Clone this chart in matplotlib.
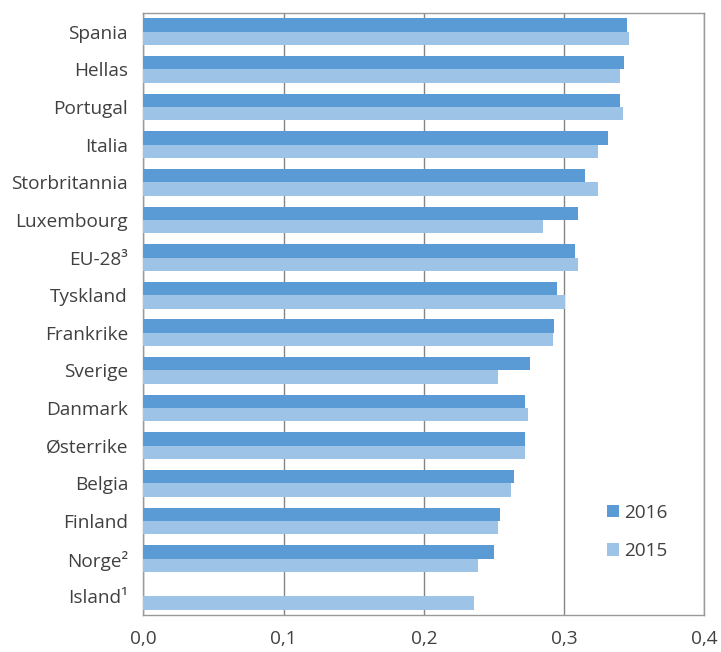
import matplotlib.pyplot as plt
import numpy as np

plt.rcParams['font.family'] = ['Open Sans', 'DejaVu Sans']

countries = ['Spania', 'Hellas', 'Portugal', 'Italia', 'Storbritannia', 'Luxembourg',
             'EU-28³', 'Tyskland', 'Frankrike', 'Sverige', 'Danmark', 'Østerrike',
             'Belgia', 'Finland', 'Norge²', 'Island¹']
v2016 = [0.345, 0.343, 0.340, 0.331, 0.315, 0.310, 0.308, 0.295, 0.293, 0.276,
         0.272, 0.272, 0.264, 0.254, 0.250, np.nan]
v2015 = [0.346, 0.340, 0.342, 0.324, 0.324, 0.285, 0.310, 0.301, 0.292, 0.253,
         0.274, 0.272, 0.262, 0.253, 0.239, 0.236]
xticks = [0.0, 0.1, 0.2, 0.3, 0.4]
xlabels = ['0,0', '0,1', '0,2', '0,3', '0,4']

fig = plt.figure(figsize=(7.21, 6.52), dpi=100)
ax = fig.add_axes([0.1988, 0.0567, 0.778, 0.9233])

y = np.arange(len(countries))
h = 0.355
ax.barh(y - h / 2, v2016, height=h, color='#5B9BD5', label='2016', zorder=3)
ax.barh(y + h / 2, v2015, height=h, color='#9DC3E6', label='2015', zorder=3)

ax.set_ylim(len(countries) - 0.5, -0.5)
ax.set_xlim(0, 0.4)
ax.set_yticks(y)
ax.set_yticklabels(countries, fontsize=13.7, color='#404040')
ax.set_xticks(xticks)
ax.set_xticklabels(xlabels, fontsize=13.7, color='#404040')
ax.tick_params(axis='both', length=0)
ax.tick_params(axis='y', pad=11)
ax.tick_params(axis='x', pad=11)
ax.grid(axis='x', color='#858585', linewidth=1, zorder=0)
for s in ax.spines.values():
    s.set_color('#999999')
    s.set_linewidth(1)

leg = ax.legend(loc='upper left', bbox_to_anchor=(0.832, 0.239),
                bbox_transform=fig.transFigure, borderaxespad=0, frameon=False,
                fontsize=13.7, handlelength=0.62, handleheight=0.62,
                handletextpad=0.25, labelspacing=1.08)
for t in leg.get_texts():
    t.set_color('#404040')

fig.savefig('out.png', dpi=100)
